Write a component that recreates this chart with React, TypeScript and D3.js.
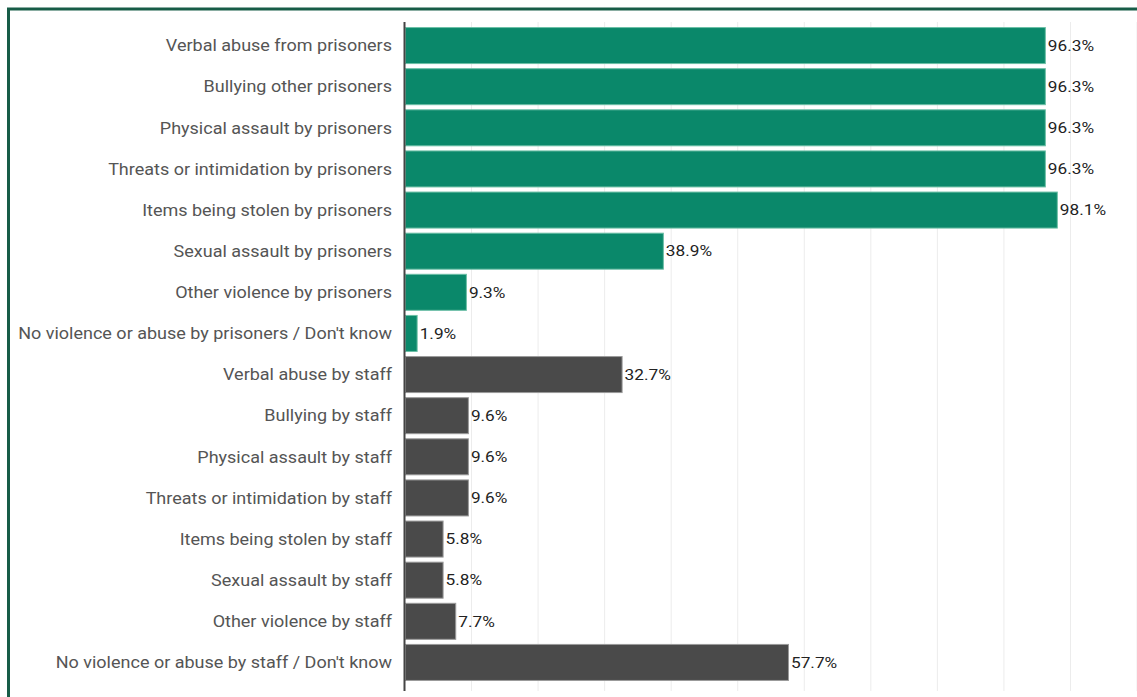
import React from "react";
import * as d3 from "d3";

const categories = [
  "Verbal abuse from prisoners",
  "Bullying other prisoners",
  "Physical assault by prisoners",
  "Threats or intimidation by prisoners",
  "Items being stolen by prisoners",
  "Sexual assault by prisoners",
  "Other violence by prisoners",
  "No violence or abuse by prisoners / Don't know",
  "Verbal abuse by staff",
  "Bullying by staff",
  "Physical assault by staff",
  "Threats or intimidation by staff",
  "Items being stolen by staff",
  "Sexual assault by staff",
  "Other violence by staff",
  "No violence or abuse by staff / Don't know",
];
const values = [96.3, 96.3, 96.3, 96.3, 98.1, 38.9, 9.3, 1.9, 32.7, 9.6, 9.6, 9.6, 5.8, 5.8, 7.7, 57.7];
const groups = ["prisoners", "prisoners", "prisoners", "prisoners", "prisoners", "prisoners", "prisoners", "prisoners",
  "staff", "staff", "staff", "staff", "staff", "staff", "staff", "staff"];
const gridTicks = [10, 20, 30, 40, 50, 60, 70, 80, 90, 100, 110];

const fillColor: Record<string, string> = { prisoners: "#0a886a", staff: "#4a4a4a" };
const strokeColor: Record<string, string> = { prisoners: "#6cbfa6", staff: "#9a9a9a" };

export default function App() {
  const W = 1137, H = 697;
  const x = d3.scaleLinear().domain([0, 110]).range([405, 1137]);
  const y = d3.scaleBand<string>().domain(categories).range([25, 683]).paddingInner(0.1).paddingOuter(0.05);
  return (
    <svg width={W} height={H} style={{ position: "absolute", left: 0, top: 0, background: "#fff" }}
      fontFamily="Roboto, sans-serif">
      <path d={`M8.5,${H} L8.5,9 L${W},9`} fill="none" stroke="#175c47" strokeWidth={3} />
      {gridTicks.map((t) => (
        <line key={t} x1={x(t)} x2={x(t)} y1={22} y2={691} stroke="#ececec" strokeWidth={1} />
      ))}
      {categories.map((c, i) => {
        const yy = y(c)!;
        const bw = y.bandwidth();
        const cy = yy + bw / 2;
        return (
          <g key={c}>
            <rect x={x(0) + 0.5} y={yy + 0.5} width={x(values[i]) - x(0) - 1} height={bw - 1}
              fill={fillColor[groups[i]]} stroke={strokeColor[groups[i]]} strokeWidth={1} />
            <text transform={`translate(392,${cy}) scale(1.105,1)`} dy="0.35em" textAnchor="end" fontSize={16.3} fill="#555">{c}</text>
            <text transform={`translate(${x(values[i]) + 2},${cy}) scale(1.15,1)`} dy="0.35em" fontSize={15} fill="#222">{values[i].toFixed(1)}%</text>
          </g>
        );
      })}
      <line x1={404.5} x2={404.5} y1={22} y2={691} stroke="#444" strokeWidth={2} />
    </svg>
  );
}
